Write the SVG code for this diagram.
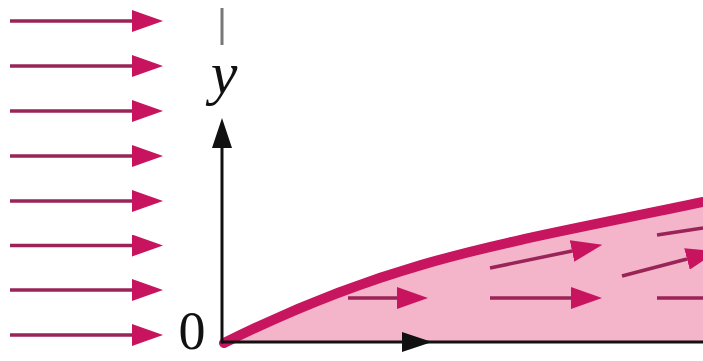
<svg xmlns="http://www.w3.org/2000/svg" width="703" height="361" viewBox="0 0 703 361">
  <style>
    .flow { stroke: #9A2358; stroke-width: 3.5; fill: none; }
    .axis { stroke: #111; stroke-width: 3; fill: none; }
    .lbl { font-family: "Liberation Serif", "DejaVu Serif", serif; fill: #111; }
  </style>
  <defs>
    <marker id="mh" markerUnits="userSpaceOnUse" viewBox="0 0 31 22" refX="0" refY="11" markerWidth="31" markerHeight="22" orient="auto">
      <path d="M0,0 L31,11 L0,22 z" fill="#C8145E"/>
    </marker>
    <marker id="kh" markerUnits="userSpaceOnUse" viewBox="0 0 30 20" refX="0" refY="10" markerWidth="30" markerHeight="20" orient="auto">
      <path d="M0,0 L30,10 L0,20 z" fill="#111"/>
    </marker>
  </defs>

  <rect width="703" height="361" fill="#ffffff"/>

  <g id="boundary-layer">
    <path d="M224,343 C394,258 503,244 703,202 L703,342 L224,342 z" fill="#F4B4CA"/>
    <path d="M224,343 C394,258 503,244 703,202" fill="none" stroke="#C8155F" stroke-width="10" stroke-linecap="round"/>
  </g>

  <g id="freestream-arrows">
    <line class="flow" x1="10" y1="21" x2="132" y2="21" marker-end="url(#mh)"/>
    <line class="flow" x1="10" y1="66" x2="132" y2="66" marker-end="url(#mh)"/>
    <line class="flow" x1="10" y1="111" x2="132" y2="111" marker-end="url(#mh)"/>
    <line class="flow" x1="10" y1="156" x2="132" y2="156" marker-end="url(#mh)"/>
    <line class="flow" x1="10" y1="201" x2="132" y2="201" marker-end="url(#mh)"/>
    <line class="flow" x1="10" y1="245.5" x2="132" y2="245.5" marker-end="url(#mh)"/>
    <line class="flow" x1="10" y1="290" x2="132" y2="290" marker-end="url(#mh)"/>
    <line class="flow" x1="10" y1="335" x2="132" y2="335" marker-end="url(#mh)"/>
  </g>

  <g id="profile-arrows">
    <line class="flow" x1="348" y1="298" x2="397" y2="298" marker-end="url(#mh)"/>
    <line class="flow" x1="490" y1="298" x2="571" y2="298" marker-end="url(#mh)"/>
    <line class="flow" x1="657" y1="298" x2="703" y2="298"/>
    <line class="flow" x1="490" y1="268" x2="572" y2="251" marker-end="url(#mh)"/>
    <line class="flow" x1="622" y1="276" x2="687" y2="259" marker-end="url(#mh)"/>
    <line class="flow" x1="657" y1="235" x2="703" y2="228"/>
  </g>

  <g id="axes">
    <line x1="222" y1="8" x2="222" y2="45" stroke="#777" stroke-width="3"/>
    <line class="axis" x1="222" y1="343.5" x2="222" y2="148" marker-end="url(#kh)"/>
    <line class="axis" x1="222" y1="342" x2="402" y2="342" marker-end="url(#kh)"/>
    <line class="axis" x1="402" y1="342" x2="703" y2="342"/>
  </g>

  <g id="labels">
    <text class="lbl" x="224" y="93" text-anchor="middle" font-size="60" font-style="italic">y</text>
    <text class="lbl" x="192" y="349" text-anchor="middle" font-size="54">0</text>
  </g>
</svg>
